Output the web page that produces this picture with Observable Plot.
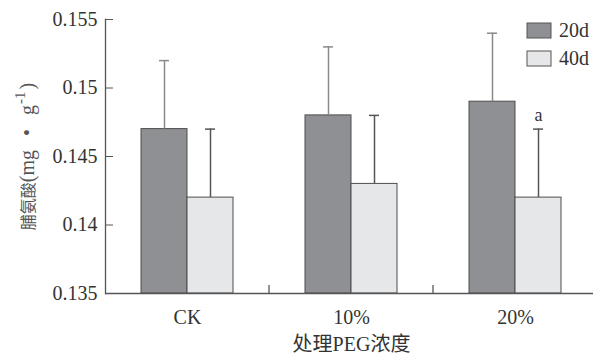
<!DOCTYPE html>
<html><head><meta charset="utf-8">
<script src="https://cdn.jsdelivr.net/npm/d3@7"></script>
<script src="https://cdn.jsdelivr.net/npm/@observablehq/plot@0.6"></script>
<style>
body{margin:0;background:#fff}
#wrap{position:relative;width:593px;height:355px;overflow:hidden}
#legend{position:absolute;left:527px;top:23px}
#legend .lg-swatches{margin:0;font-family:"Liberation Serif",serif;font-size:20px;color:#333;display:block}
#legend .lg-swatch{display:flex;align-items:center;height:15px;margin:0 0 13px 0}
#legend .lg-swatch svg{overflow:visible;margin-right:8px}
#legend .lg-swatch svg rect{stroke:#555;stroke-width:1}
</style></head><body><div id="wrap"><div id="legend"></div></div><script>
const categories = ["CK","10%","20%"];
const series = ["20d","40d"];
const mean20d = [0.147,0.148,0.149];
const mean40d = [0.142,0.143,0.142];
const sd20d = [0.005,0.005,0.005];
const sd40d = [0.005,0.005,0.005];
const sig40d = ["","","a"];
const yTicks = [0.135,0.14,0.145,0.15,0.155];
const yTickLabels = ["0.135","0.14","0.145","0.15","0.155"];
const yLabelParts = ["脯氨酸", "(mg\u2002\u2009•\u2002\u2009g", "-1", ")"];
const xLabel = "处理PEG浓度";

const data = categories.flatMap((c,i)=>[
  {cat:c, s:"20d", v:mean20d[i], e:sd20d[i], sig:""},
  {cat:c, s:"40d", v:mean40d[i], e:sd40d[i], sig:sig40d[i]}
]);
const serif = '"Liberation Serif","Noto Sans CJK SC",serif';
const errColor = {"20d":"#8a8a8a","40d":"#555"};

const chart = Plot.plot({
  width:593, height:355,
  marginLeft:105, marginRight:-4, marginTop:19, marginBottom:62,
  style:{fontFamily:serif, fontSize:"20px", color:"#333", background:"#fff"},
  fx:{domain:categories, padding:0},
  x:{domain:series, paddingInner:0, paddingOuter:0.745, axis:null},
  y:{domain:[0.135,0.155]},
  color:{domain:series, range:["#8f9093","#e6e7e9"]},
  marks:[
    Plot.barY(data,{fx:"cat", x:"s", y1:0.135, y2:"v", fill:"s", stroke:"#4d4d4d", strokeWidth:1}),
    Plot.ruleX(data,{fx:"cat", x:"s", y1:"v", y2:d=>d.v+d.e, stroke:d=>errColor[d.s], strokeWidth:1.5}),
    Plot.tickY(data,{fx:"cat", x:"s", y:d=>d.v+d.e, stroke:d=>errColor[d.s], strokeWidth:1.5, insetLeft:18, insetRight:18}),
    Plot.text(data,{fx:"cat", x:"s", y:d=>d.v+d.e, text:"sig", dy:-14, fontSize:18, fill:"#333"}),
    Plot.ruleY([0.135],{stroke:"#555", strokeWidth:1.3}),
    Plot.frame({anchor:"left", facetAnchor:"left", stroke:"#555", strokeWidth:1.3}),
    Plot.axisY({ticks:yTicks, tickFormat:(d,i)=>yTickLabels[i], tickSize:-8, tickPadding:16, stroke:"#555",
      fontSize:20, label:yLabelParts.join(""), labelAnchor:"center", labelArrow:"none", labelOffset:86}),
    Plot.axisFx({anchor:"bottom", tickSize:0, tickPadding:16, fontSize:20,
      label:xLabel, labelAnchor:"center", labelArrow:"none", labelOffset:57})
  ]
});
document.getElementById("wrap").prepend(chart);

// y label with mixed sizes and a superscript
const ylab = d3.select(chart).selectAll('[aria-label="y-axis label"] text');
ylab.text(null).attr("fill","#555");
ylab.append("tspan").attr("font-family",'"Noto Sans CJK SC",sans-serif').attr("font-size",16).text(yLabelParts[0]);
ylab.append("tspan").attr("font-size",20).text(yLabelParts[1]);
ylab.append("tspan").attr("font-size",15).attr("dy","-0.6em").attr("dx",1).text(yLabelParts[2]);
ylab.append("tspan").attr("font-size",20).attr("dy","0.45em").attr("dx",2).text(yLabelParts[3]);

// boundary ticks between groups on the x axis, from the library's scales
const fxS = chart.scale("fx"), yS = chart.scale("y");
const y0 = yS.apply(0.135);
categories.slice(1).forEach(c=>{
  const x = fxS.apply(c);
  d3.select(chart).append("line")
    .attr("x1",x).attr("x2",x).attr("y1",y0).attr("y2",y0-8)
    .attr("stroke","#555").attr("stroke-width",1.3);
});

const leg = chart.legend("color",{legend:"swatches", swatchWidth:24, swatchHeight:15, className:"lg"});
document.getElementById("legend").append(leg);
</script></body></html>
